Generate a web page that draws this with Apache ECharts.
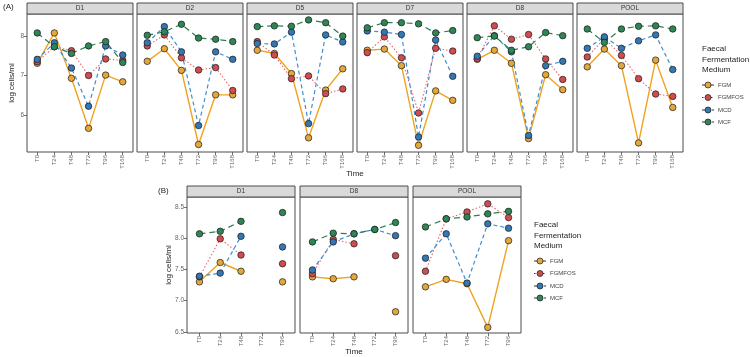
<!DOCTYPE html>
<html><head><meta charset="utf-8">
<script src="https://cdn.jsdelivr.net/npm/echarts@6/dist/echarts.min.js"></script>
<style>html,body{margin:0;padding:0;background:#fff}#c{width:750px;height:357px}</style>
</head><body><div id="c"></div>
<script>
const mediums = ['FGM','FGMFOS','MCD','MCF'];
const timesA = ['T0','T24','T48','T72','T96','T168'];
const timesB = ['T0','T24','T48','T72','T96'];
const donorsA = ['D1','D2','D5','D7','D8','POOL'];
const donorsB = ['D1','D8','POOL'];
const yTicksA = [6,7,8];
const yTicksB = [6.5,7.0,7.5,8.0,8.5];

// Panel A (rows = D1, D2, D5, D7, D8, POOL; columns = timesA)
const A_FGM = [
  [7.31,8.08,6.93,5.66,7.01,6.84],
  [7.36,7.68,7.13,5.25,6.51,6.51],
  [7.64,7.56,7.05,5.42,6.63,7.17],
  [7.64,7.67,7.25,5.23,6.61,6.37],
  [7.41,7.64,7.31,5.40,7.02,6.64],
  [7.22,7.67,7.25,5.29,7.39,6.19]
];
const A_FGMFOS = [
  [7.35,7.73,7.63,7.00,7.42,7.38],
  [7.75,8.03,7.45,7.14,7.20,6.62],
  [7.86,7.52,6.92,6.99,6.54,6.66],
  [7.58,7.98,7.45,6.05,7.69,7.62],
  [7.43,8.26,7.92,8.04,7.42,6.90],
  [7.47,7.94,7.51,6.92,6.53,6.47]
];
const A_MCD = [
  [7.41,7.83,7.19,6.22,7.75,7.52],
  [7.83,8.24,7.60,5.73,7.60,7.41],
  [7.81,7.80,8.10,5.78,8.03,7.85],
  [8.13,8.10,8.04,5.44,7.90,6.98],
  [7.49,8.01,7.60,5.48,7.25,7.36],
  [7.69,7.98,7.69,7.88,8.03,7.15]
];
const A_MCF = [
  [8.08,7.73,7.56,7.75,7.86,7.33],
  [8.02,8.11,8.30,7.95,7.92,7.86],
  [8.24,8.26,8.25,8.41,8.34,8.00],
  [8.21,8.34,8.34,8.31,8.08,8.14],
  [7.96,8.00,7.64,7.73,8.09,8.01],
  [8.18,7.84,8.18,8.25,8.26,8.18]
];

// Panel B (rows = D1, D8, POOL; columns = timesB)
const B_FGM = [
  [7.30,7.61,7.47,null,7.30],
  [7.38,7.35,7.38,null,6.82],
  [7.22,7.34,7.27,6.57,7.96]
];
const B_FGMFOS = [
  [7.38,7.99,7.73,null,7.59],
  [7.43,7.98,7.91,null,7.72],
  [7.47,8.31,8.42,8.55,8.33]
];
const B_MCD = [
  [7.39,7.44,8.03,null,7.86],
  [7.49,7.94,8.07,8.14,8.04],
  [7.68,8.07,7.28,8.23,8.16]
];
const B_MCF = [
  [8.07,8.11,8.27,null,8.41],
  [7.94,8.08,8.07,8.14,8.25],
  [8.18,8.31,8.34,8.39,8.43]
];

const FONT = 'Liberation Sans';
const lineColors = ['#F0A21E','#E8666B','#3E8DD2','#2E7D50'];
const pointColors = ['#E3A73A','#D24B4F','#3477B3','#2F8655'];
const lineTypes = ['solid',[1.5,2],[4,3],[6,4]];
const lineWidths = [1.4,1.1,1.2,1.2];

const dataA = [A_FGM, A_FGMFOS, A_MCD, A_MCF];
const dataB = [B_FGM, B_FGMFOS, B_MCD, B_MCF];

const grids = [], xAxes = [], yAxes = [], series = [], graphics = [];

function addPanel(left, top, width, height, times, ymin, ymax, yticks, showY, yfmt, title, rowData, rowIdx) {
  const gi = grids.length;
  grids.push({left, top, width, height, show: true, borderColor: '#4d4d4d', borderWidth: 1, backgroundColor: '#fff'});
  const idx = times.map((t,i)=>i);
  xAxes.push({
    type: 'value', gridIndex: gi, min: -0.6, max: times.length - 0.4, position: 'bottom',
    splitLine: {show:false}, axisLine: {show:false, onZero:false},
    axisTick: {show:true, customValues: idx, length: 3, lineStyle:{color:'#4d4d4d', width:0.8}},
    axisLabel: {show:true, customValues: idx, rotate: 90, fontSize: 6, color: '#666', fontFamily: FONT, margin: 3,
      formatter: v => times[Math.round(v)]}
  });
  yAxes.push({
    type: 'value', gridIndex: gi, min: ymin, max: ymax, position: 'left',
    splitLine: {show:false}, axisLine: {show:false, onZero:false},
    axisTick: {show: showY, customValues: yticks, length: 3, lineStyle:{color:'#4d4d4d', width:0.8}},
    axisLabel: {show: showY, customValues: yticks, fontSize: 6.5, color: '#666', fontFamily: FONT, margin: 3, formatter: yfmt}
  });
  // strip
  graphics.push({type:'rect', shape:{x:left, y:top-11, width:width, height:11},
    style:{fill:'#d9d9d9', stroke:'#4d4d4d', lineWidth:1}, z: 10});
  graphics.push({type:'text', x:left+width/2, y:top-5.5,
    style:{text:title, fontSize:6.5, fill:'#333', fontFamily:FONT, align:'center', verticalAlign:'middle'}, z: 11});
  // lines first
  rowData.forEach((set, m) => {
    const vals = set[rowIdx];
    series.push({
      type:'line', name: mediums[m], xAxisIndex: gi, yAxisIndex: gi,
      data: vals.map((v,i)=>[i, v==null ? '-' : v]),
      showSymbol:false, symbol:'none', connectNulls:false, z: 2,
      lineStyle:{color: lineColors[m], width: lineWidths[m], type: lineTypes[m]},
      silent:true, animation:false
    });
  });
  rowData.forEach((set, m) => {
    const vals = set[rowIdx];
    series.push({
      type:'scatter', name: mediums[m], xAxisIndex: gi, yAxisIndex: gi,
      data: vals.map((v,i)=>[i,v]).filter(d=>d[1]!=null),
      symbol:'circle', symbolSize: 6.5, z: 3,
      itemStyle:{color: pointColors[m], borderColor:'#1a1a1a', borderWidth:0.7, opacity:1},
      silent:true, animation:false
    });
  });
}

// Panel A layout
const aLefts = [27,137,247,357,467,577];
donorsA.forEach((d,i)=>{
  addPanel(aLefts[i], 14, 106, 138, timesA, 5.06, 8.56, yTicksA, i===0, v=>String(Math.round(v)), d, dataA, i);
});
// Panel B layout
const bLefts = [187,300,413];
donorsB.forEach((d,i)=>{
  addPanel(bLefts[i], 197, 108, 136, timesB, 6.48, 8.66, yTicksB, i===0, v=>v.toFixed(1), d, dataB, i);
});

// titles and labels
graphics.push({type:'text', x:3, y:7, style:{text:'(A)', fontSize:8, fill:'#222', fontFamily:FONT, align:'left', verticalAlign:'middle'}});
graphics.push({type:'text', x:158, y:191, style:{text:'(B)', fontSize:8, fill:'#222', fontFamily:FONT, align:'left', verticalAlign:'middle'}});
graphics.push({type:'text', x:12, y:83, rotation:Math.PI/2, style:{text:'log cells/ml', fontSize:8, fill:'#222', fontFamily:FONT, align:'center', verticalAlign:'middle'}});
graphics.push({type:'text', x:169, y:265, rotation:Math.PI/2, style:{text:'log cells/ml', fontSize:8, fill:'#222', fontFamily:FONT, align:'center', verticalAlign:'middle'}});
graphics.push({type:'text', x:355, y:174, style:{text:'Time', fontSize:8, fill:'#222', fontFamily:FONT, align:'center', verticalAlign:'middle'}});
graphics.push({type:'text', x:354, y:352, style:{text:'Time', fontSize:8, fill:'#222', fontFamily:FONT, align:'center', verticalAlign:'middle'}});

function addLegend(x, titleY, itemYs) {
  ['Faecal','Fermentation','Medium'].forEach((t,i)=>{
    graphics.push({type:'text', x:x, y:titleY + i*10.5, style:{text:t, fontSize:8, fill:'#222', fontFamily:FONT, align:'left', verticalAlign:'middle'}});
  });
  mediums.forEach((m,i)=>{
    const y = itemYs[i];
    graphics.push({type:'line', shape:{x1:x, y1:y, x2:x+12, y2:y}, style:{stroke:'#333', lineWidth:1, lineDash: i===0 ? null : (i===1 ? [1.5,1.5] : [3,2])}});
    graphics.push({type:'circle', shape:{cx:x+6, cy:y, r:3}, style:{fill:pointColors[i], stroke:'#1a1a1a', lineWidth:0.7}});
    graphics.push({type:'text', x:x+16, y:y, style:{text:m, fontSize:6, fill:'#444', fontFamily:FONT, align:'left', verticalAlign:'middle'}});
  });
}
addLegend(702, 49, [85, 97.5, 110, 122]);
addLegend(534, 225, [261, 273.5, 286, 298]);

const chart = echarts.init(document.getElementById('c'), null, {renderer:'canvas'});
chart.setOption({
  animation:false,
  backgroundColor:'#fff',
  grid: grids, xAxis: xAxes, yAxis: yAxes, series: series,
  graphic: graphics
});
</script></body></html>
